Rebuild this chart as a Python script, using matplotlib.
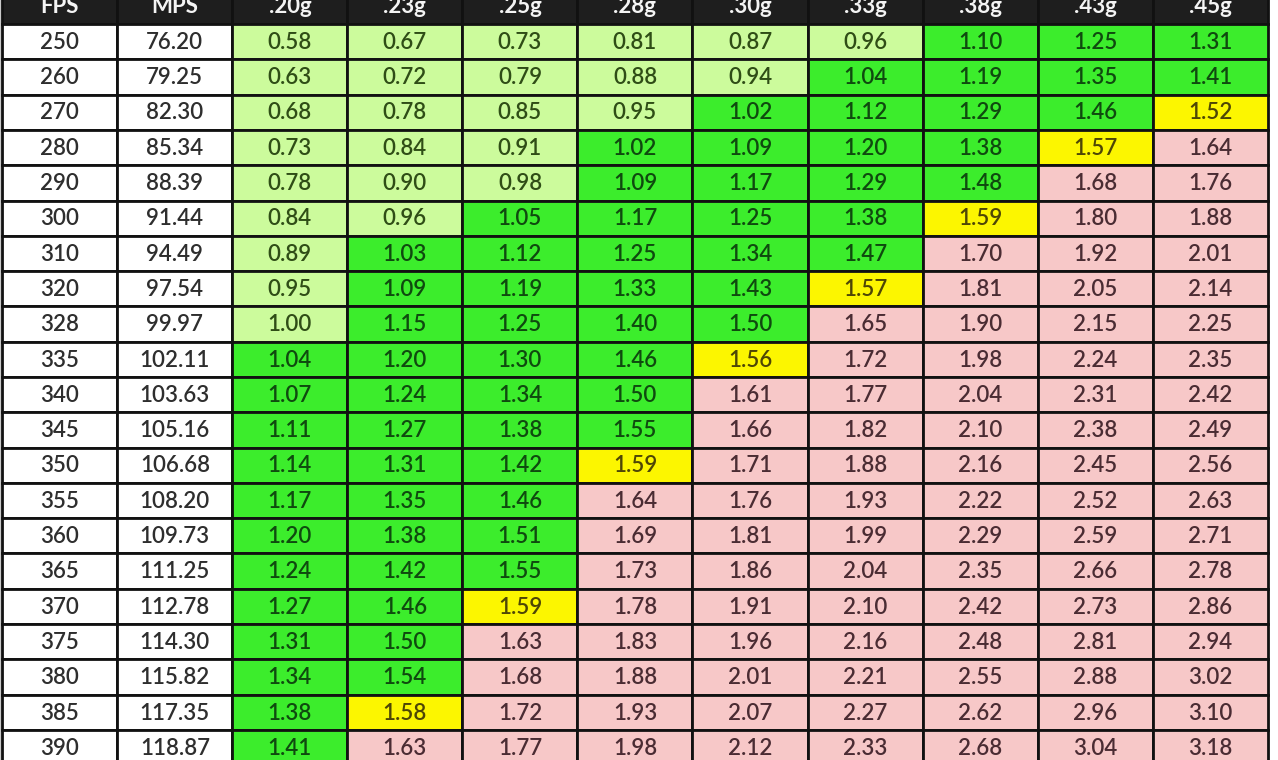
import matplotlib.pyplot as plt
from matplotlib.patches import Rectangle

plt.rcParams['font.family'] = ['Lato', 'DejaVu Sans']

fps = [250, 260, 270, 280, 290, 300, 310, 320, 328, 335, 340,
       345, 350, 355, 360, 365, 370, 375, 380, 385, 390]
mps = [76.20, 79.25, 82.30, 85.34, 88.39, 91.44, 94.49, 97.54, 99.97, 102.11, 103.63,
       105.16, 106.68, 108.20, 109.73, 111.25, 112.78, 114.30, 115.82, 117.35, 118.87]
weights = [".20g", ".23g", ".25g", ".28g", ".30g", ".33g", ".38g", ".43g", ".45g"]

# joules per row, one value per bb weight
energy = [
    [0.58, 0.67, 0.73, 0.81, 0.87, 0.96, 1.10, 1.25, 1.31],
    [0.63, 0.72, 0.79, 0.88, 0.94, 1.04, 1.19, 1.35, 1.41],
    [0.68, 0.78, 0.85, 0.95, 1.02, 1.12, 1.29, 1.46, 1.52],
    [0.73, 0.84, 0.91, 1.02, 1.09, 1.20, 1.38, 1.57, 1.64],
    [0.78, 0.90, 0.98, 1.09, 1.17, 1.29, 1.48, 1.68, 1.76],
    [0.84, 0.96, 1.05, 1.17, 1.25, 1.38, 1.59, 1.80, 1.88],
    [0.89, 1.03, 1.12, 1.25, 1.34, 1.47, 1.70, 1.92, 2.01],
    [0.95, 1.09, 1.19, 1.33, 1.43, 1.57, 1.81, 2.05, 2.14],
    [1.00, 1.15, 1.25, 1.40, 1.50, 1.65, 1.90, 2.15, 2.25],
    [1.04, 1.20, 1.30, 1.46, 1.56, 1.72, 1.98, 2.24, 2.35],
    [1.07, 1.24, 1.34, 1.50, 1.61, 1.77, 2.04, 2.31, 2.42],
    [1.11, 1.27, 1.38, 1.55, 1.66, 1.82, 2.10, 2.38, 2.49],
    [1.14, 1.31, 1.42, 1.59, 1.71, 1.88, 2.16, 2.45, 2.56],
    [1.17, 1.35, 1.46, 1.64, 1.76, 1.93, 2.22, 2.52, 2.63],
    [1.20, 1.38, 1.51, 1.69, 1.81, 1.99, 2.29, 2.59, 2.71],
    [1.24, 1.42, 1.55, 1.73, 1.86, 2.04, 2.35, 2.66, 2.78],
    [1.27, 1.46, 1.59, 1.78, 1.91, 2.10, 2.42, 2.73, 2.86],
    [1.31, 1.50, 1.63, 1.83, 1.96, 2.16, 2.48, 2.81, 2.94],
    [1.34, 1.54, 1.68, 1.88, 2.01, 2.21, 2.55, 2.88, 3.02],
    [1.38, 1.58, 1.72, 1.93, 2.07, 2.27, 2.62, 2.96, 3.10],
    [1.41, 1.63, 1.77, 1.98, 2.12, 2.33, 2.68, 3.04, 3.18],
]

# hand coloring: L light green, G green, Y yellow, P pink
shade = [
    "LLLLLLGGG", "LLLLLGGGG", "LLLLGGGGY", "LLLGGGGYP", "LLLGGGGPP",
    "LLGGGGYPP", "LGGGGGPPP", "LGGGGYPPP", "LGGGGPPPP", "GGGGYPPPP",
    "GGGGPPPPP", "GGGGPPPPP", "GGGYPPPPP", "GGGPPPPPP", "GGGPPPPPP",
    "GGGPPPPPP", "GGYPPPPPP", "GGPPPPPPP", "GGPPPPPPP", "GYPPPPPPP",
    "GPPPPPPPP",
]

fills = {"W": "#ffffff", "L": "#ccfb9c", "G": "#3ced2c", "Y": "#fcf600", "P": "#f7c8c8"}
inks = {"W": "#2e2e2e", "L": "#2f4d16", "G": "#0f4a0f", "Y": "#4e4606", "P": "#4a2c33"}

fig = plt.figure(figsize=(12.78, 7.6), dpi=100)
ax = fig.add_axes([0, 0, 1, 1])
ax.set_xlim(-0.02, 11.09)
ax.set_ylim(20.85, -0.68)
ax.axis('off')

ax.axvspan(-0.05, 0, color="#c8c8c8")

header = ["FPS", "MPS"] + weights
for j, h in enumerate(header):
    ax.add_patch(Rectangle((j, -1), 1, 1, facecolor="#1e1e1e", edgecolor="#111111", lw=2))
    ax.text(j + 0.5, -0.5, h, color="#f4f4f4", fontweight="bold",
            ha="center", va="center", fontsize=16)

for i in range(len(fps)):
    cells = [str(fps[i]), f"{mps[i]:.2f}"] + [f"{v:.2f}" for v in energy[i]]
    kinds = "WW" + shade[i]
    for j, (txt, k) in enumerate(zip(cells, kinds)):
        ax.add_patch(Rectangle((j, i), 1, 1, facecolor=fills[k], edgecolor="#111111", lw=2))
        ax.text(j + 0.5, i + 0.52, txt, ha="center", va="center", color=inks[k],
                fontsize=16, fontweight="semibold")

fig.savefig("out.png", dpi=100)
